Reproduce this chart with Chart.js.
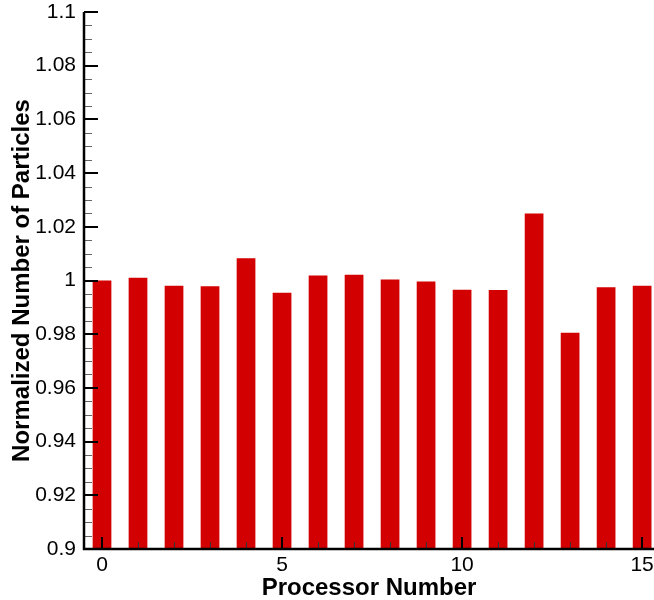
<!DOCTYPE html>
<html>
<head>
<meta charset="utf-8">
<script src="https://cdn.jsdelivr.net/npm/chart.js@4.4.1/dist/chart.umd.min.js"></script>
<style>
  html, body { margin: 0; padding: 0; background: #fff; }
  #wrap { width: 654px; height: 600px; }
</style>
</head>
<body>
<div id="wrap"><canvas id="chart" width="654" height="600"></canvas></div>
<script>
/* chart data */
const processors = [0, 1, 2, 3, 4, 5, 6, 7, 8, 9, 10, 11, 12, 13, 14, 15];
const particles  = [1.000, 1.001, 0.998, 0.9979, 1.0083, 0.9954, 1.0019, 1.0021,
                    1.0004, 0.9996, 0.9966, 0.9965, 1.025, 0.9805, 0.9975, 0.998];
const xTickValues = [0, 5, 10, 15];
const yMin = 0.9, yMax = 1.1, yStep = 0.02, yMinorStep = 0.005;

const FONT = "'Liberation Sans', Arial, Helvetica, sans-serif";

/* inward tick marks, like the original plot */
const innerTicks = {
    id: 'innerTicks',
    afterDatasetsDraw(chart) {
        const ctx = chart.ctx;
        const xs = chart.scales.x, ys = chart.scales.y;
        const area = chart.chartArea;
        ctx.save();
        ctx.lineCap = 'butt';
        /* y minor + major */
        const nMinor = Math.round((yMax - yMin) / yMinorStep);
        for (let i = 0; i <= nMinor; i++) {
            const v = yMin + i * yMinorStep;
            const py = Math.round(ys.getPixelForValue(v));
            const major = (i % 4 === 0);
            ctx.lineWidth = major ? 2 : 1;
            ctx.strokeStyle = major ? '#000' : '#666';
            ctx.beginPath();
            ctx.moveTo(area.left, major ? py : py + 0.5);
            ctx.lineTo(area.left + (major ? 14 : 8), major ? py : py + 0.5);
            ctx.stroke();
        }
        /* x minor + major */
        for (const p of processors) {
            const px = Math.round(xs.getPixelForValue(p));
            const major = xTickValues.includes(p);
            ctx.lineWidth = major ? 2 : 1;
            ctx.strokeStyle = major ? '#000' : '#333';
            ctx.beginPath();
            ctx.moveTo(major ? px : px + 0.5, area.bottom);
            ctx.lineTo(major ? px : px + 0.5, area.bottom - (major ? 12 : 7));
            ctx.stroke();
        }
        /* axis lines */
        ctx.lineWidth = 2.5;
        ctx.strokeStyle = '#000';
        ctx.beginPath();
        ctx.moveTo(area.left, area.top);
        ctx.lineTo(area.left, area.bottom);
        ctx.lineTo(chart.width, area.bottom);
        ctx.stroke();
        ctx.restore();
    }
};

new Chart(document.getElementById('chart').getContext('2d'), {
    type: 'bar',
    data: {
        datasets: [{
            data: processors.map((p, i) => ({x: p, y: particles[i]})),
            backgroundColor: 'rgb(210,0,0)',
            borderWidth: 0,
            barPercentage: 0.52,
            categoryPercentage: 1.0
        }]
    },
    options: {
        responsive: false,
        animation: false,
        layout: { padding: { top: 12, right: 0, bottom: 0, left: 0 } },
        plugins: { legend: { display: false }, tooltip: { enabled: false } },
        scales: {
            x: {
                type: 'linear',
                offset: false,
                min: -0.5,
                max: 15.33,
                grid: { display: false, drawTicks: false, offset: false },
                border: { display: false },
                afterBuildTicks: (s) => { s.ticks = xTickValues.map(v => ({value: v})); },
                afterFit: (s) => { s.height = 51; s.paddingLeft = 0; s.paddingRight = 0; },
                ticks: {
                    autoSkip: false,
                    maxRotation: 0,
                    padding: 4,
                    color: '#000',
                    font: { family: FONT, size: 21 },
                    callback: (v) => String(v)
                },
                title: {
                    display: true,
                    text: 'Processor Number',
                    color: '#000',
                    padding: { top: 0, bottom: -3 },
                    font: { family: FONT, size: 24, weight: 'bold' }
                }
            },
            y: {
                min: yMin,
                max: yMax,
                grid: { display: false, drawTicks: false },
                border: { display: false },
                afterFit: (s) => { s.width = 84; s.paddingTop = 0; s.paddingBottom = 0; },
                ticks: {
                    stepSize: yStep,
                    padding: 8,
                    color: '#000',
                    font: { family: FONT, size: 21 },
                    callback: (v) => String(+v.toFixed(2))
                },
                title: {
                    display: true,
                    text: 'Normalized Number of Particles',
                    color: '#000',
                    padding: { top: 8, bottom: 0 },
                    font: { family: FONT, size: 24, weight: 'bold' }
                }
            }
        }
    },
    plugins: [innerTicks]
});
</script>
</body>
</html>
